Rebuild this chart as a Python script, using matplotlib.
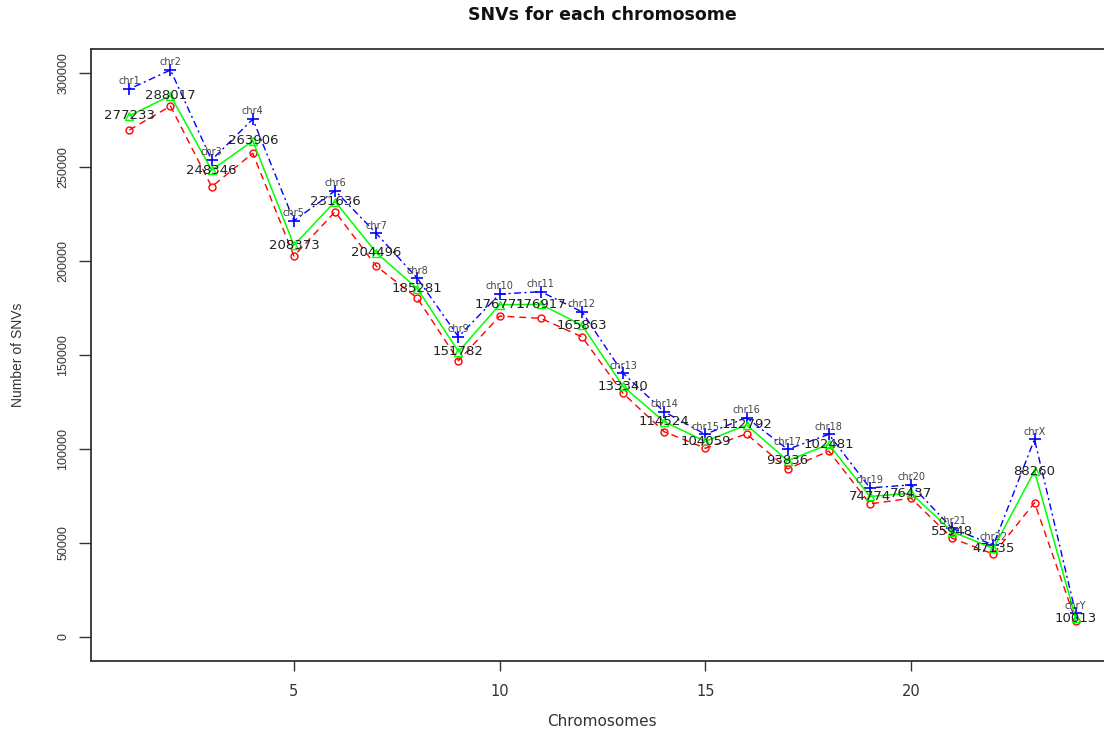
import matplotlib
matplotlib.use("Agg")
import matplotlib.pyplot as plt

# chromosome names and SNV counts per chromosome
chroms = ["chr1", "chr2", "chr3", "chr4", "chr5", "chr6", "chr7", "chr8",
          "chr9", "chr10", "chr11", "chr12", "chr13", "chr14", "chr15",
          "chr16", "chr17", "chr18", "chr19", "chr20", "chr21", "chr22",
          "chrX", "chrY"]
total_snvs = [291500, 301600, 253700, 275500, 221400, 237400, 214700, 190800,
              159700, 182400, 183700, 173000, 140300, 119800, 107800, 116700,
              99800, 107800, 79300, 80900, 57800, 48900, 105200, 12600]
mid_snvs = [277233, 288017, 248346, 263906, 208373, 231636, 204496, 185281,
            151782, 176771, 176917, 165863, 133340, 114524, 104059, 112792,
            93836, 102481, 74774, 76437, 55948, 47135, 88260, 10013]
low_snvs = [269700, 282400, 239500, 257300, 202700, 226200, 197300, 180200,
            147000, 170700, 169500, 159700, 129600, 109200, 100400, 108000,
            89400, 98900, 70800, 73800, 52500, 44100, 71400, 8700]
xs = list(range(1, len(chroms) + 1))
y_ticks = [0, 50000, 100000, 150000, 200000, 250000, 300000]
x_ticks = [5, 10, 15, 20]

W, H = 1104, 732
fig = plt.figure(figsize=(W / 100, H / 100), dpi=100)
# plot box runs a little past the right edge of the figure
ax = fig.add_axes([91.5 / W, (H - 661) / H, (1113.5 - 91.5) / W, (661 - 49) / H])

ax.plot(xs, low_snvs, color="red", lw=1, dashes=(5, 3.5), marker="o",
        ms=5, mfc="none", mew=1)
ax.plot(xs, total_snvs, color="blue", lw=1, dashes=(1.5, 2.5, 5, 2.5),
        marker="+", ms=9, mew=1.2)
ax.plot(xs, mid_snvs, color="#00ff00", lw=1.1, marker="^", ms=5.5,
        mfc="none", mew=1)

for x, y, name in zip(xs, total_snvs, chroms):
    ax.annotate(name, (x, y), xytext=(0, 5.5), textcoords="offset points",
                ha="center", va="center", fontsize=7, color="#444444",
                family="DejaVu Sans")
for x, y in zip(xs, mid_snvs):
    ax.text(x, y, str(y), ha="center", va="center", fontsize=9.5,
            color="#222222", family="DejaVu Sans")

ax.set_xlim(0.08, 24.92)
ax.set_ylim(-12770, 312770)
ax.set_xticks(x_ticks)
ax.set_yticks(y_ticks)
ax.set_xticklabels([str(t) for t in x_ticks], fontsize=10.5, color="#333333",
                   family="DejaVu Sans")
ax.set_yticklabels([str(t) for t in y_ticks], fontsize=9, color="#333333",
                   family="Liberation Sans", rotation=90, va="center")
ax.tick_params(axis="x", length=7.2, width=1, color="#333333", pad=9)
ax.tick_params(axis="y", length=8.6, width=1, color="#333333", pad=7.5)
for sp in ax.spines.values():
    sp.set_color("#333333")
    sp.set_linewidth(1.3)

fig.text(602 / W, 1 - 14.5 / H, "SNVs for each chromosome", ha="center",
         va="center", fontsize=12.5, fontweight="bold", color="#111111",
         family="DejaVu Sans")
fig.text(602 / W, 1 - 722 / H, "Chromosomes", ha="center", va="center",
         fontsize=11, color="#333333", family="DejaVu Sans")
fig.text(18 / W, 1 - 355 / H, "Number of SNVs", ha="center", va="center",
         rotation=90, fontsize=10, color="#333333", family="Liberation Sans")

fig.savefig("out.png", dpi=100)
